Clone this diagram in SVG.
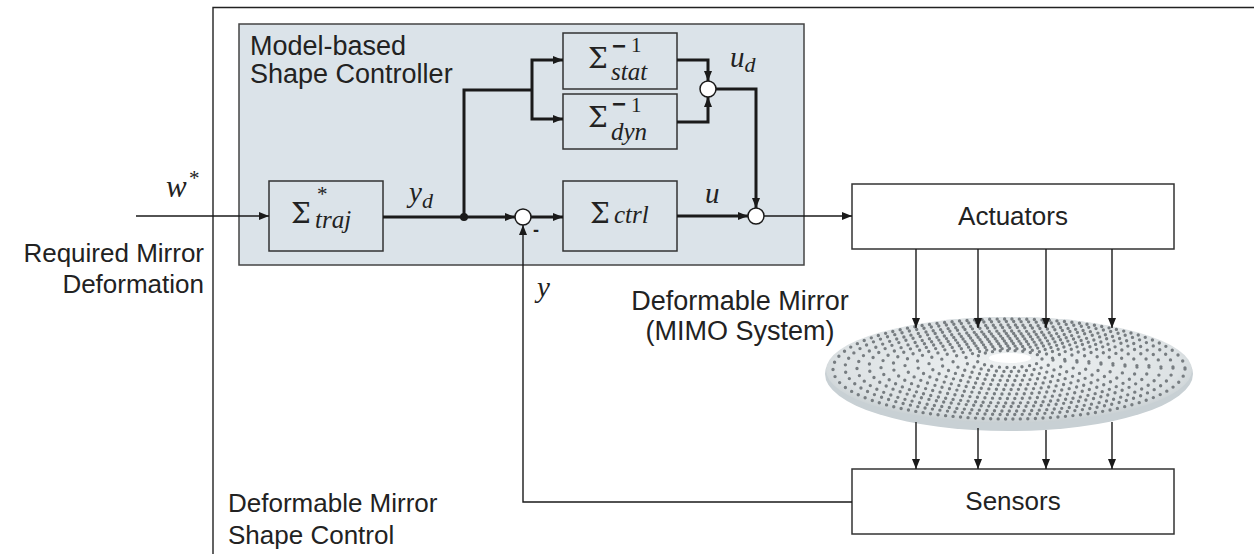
<svg xmlns="http://www.w3.org/2000/svg" width="1254" height="554" viewBox="0 0 1254 554">
<defs>
<style>
.sans{font-family:"Liberation Sans",Arial,sans-serif;fill:#222}
.math{font-family:"Liberation Serif","Times New Roman",serif;fill:#222}
.it{font-style:italic}
.sig{font-family:"DejaVu Serif","Liberation Serif",serif;font-size:28px;fill:#222}
.sub{font-family:"Liberation Serif","Times New Roman",serif;font-size:25px;font-style:italic}
.sup{font-family:"Liberation Serif","Times New Roman",serif;font-size:21px;font-style:normal}
.mn{font-family:"Liberation Sans",Arial,sans-serif;font-size:24px;font-weight:bold;font-style:normal}
.blk{fill:none;stroke:#333;stroke-width:1.5}
.thick{fill:none;stroke:#1a1a1a;stroke-width:3}
.thin{fill:none;stroke:#1a1a1a;stroke-width:1.4}
.sum{fill:#fff;stroke:#1a1a1a;stroke-width:1.5}
</style>
<marker id="ah" viewBox="0 0 10 8" refX="10" refY="4" markerUnits="userSpaceOnUse" markerWidth="11" markerHeight="8" orient="auto">
<path d="M0,0 L10,4 L0,8 Z" fill="#1a1a1a"/>
</marker>
<marker id="as" viewBox="0 0 10 8" refX="10" refY="4" markerUnits="userSpaceOnUse" markerWidth="10" markerHeight="8" orient="auto">
<path d="M0,0 L10,4 L0,8 Z" fill="#1a1a1a"/>
</marker>
<radialGradient id="disk" cx="0.5" cy="0.45" r="0.55">
<stop offset="0" stop-color="#eef1f2"/>
<stop offset="0.85" stop-color="#dde2e4"/>
<stop offset="1" stop-color="#c8cfd2"/>
</radialGradient>
</defs>
<rect width="1254" height="554" fill="#fff"/>

<g id="frame">
<polyline points="213,554 213,7.5 1254,7.5" fill="none" stroke="#222" stroke-width="1.4"/>
<text class="sans" font-size="26" x="228" y="512">Deformable Mirror</text>
<text class="sans" font-size="26" x="228" y="544">Shape Control</text>
</g>

<g id="controller">
<rect x="239" y="24" width="565" height="241" fill="#dbe3e9" stroke="#444" stroke-width="1.5"/>
<text class="sans" font-size="27" x="250" y="55">Model-based</text>
<text class="sans" font-size="27" x="250" y="83">Shape Controller</text>
</g>

<g id="input-label">
<text class="math it" font-size="31" x="166" y="197">w<tspan class="sup" font-size="26" x="189" y="185">*</tspan></text>
<text class="sans" font-size="26" x="204" y="262" text-anchor="end">Required Mirror</text>
<text class="sans" font-size="26" x="204" y="293" text-anchor="end">Deformation</text>
</g>

<g id="traj">
<rect class="blk" x="269" y="181" width="114" height="70"/>
<text class="sig" x="291" y="223">Σ<tspan class="sup" font-size="22" x="317" y="201">*</tspan><tspan class="sub" font-size="24" x="315" y="228">traj</tspan></text>
</g>

<g id="stat">
<rect class="blk" x="563" y="33" width="114" height="56"/>
<text class="sig" x="588" y="68">Σ<tspan class="mn" x="612" y="54">−</tspan><tspan class="sup" x="631" y="52">1</tspan><tspan class="sub" x="611" y="80">stat</tspan></text>
</g>

<g id="dyn">
<rect class="blk" x="563" y="94" width="114" height="55"/>
<text class="sig" x="588" y="127">Σ<tspan class="mn" x="612" y="112">−</tspan><tspan class="sup" x="631" y="112">1</tspan><tspan class="sub" x="611" y="140">dyn</tspan></text>
</g>

<g id="ctrl">
<rect class="blk" x="563" y="181" width="114" height="70"/>
<text class="sig" x="590" y="223">Σ<tspan class="sub" x="614" y="223">ctrl</tspan></text>
</g>

<g id="sum1">
<circle class="sum" cx="523" cy="217" r="8"/>
<text class="sans" font-size="18" font-weight="bold" x="533" y="236">-</text>
</g>
<g id="sum2">
<circle class="sum" cx="756" cy="216" r="8"/>
</g>
<g id="sum3">
<circle class="sum" cx="708" cy="89" r="8"/>
</g>

<g id="actuators">
<rect class="blk" x="852" y="184" width="322" height="65" fill="#fff"/>
<text class="sans" font-size="26" x="1013" y="225" text-anchor="middle">Actuators</text>
</g>

<g id="sensors">
<rect class="blk" x="852" y="469" width="322" height="65" fill="#fff"/>
<text class="sans" font-size="26" x="1013" y="510" text-anchor="middle">Sensors</text>
</g>

<g id="mirror">
<ellipse cx="1009" cy="374" rx="184" ry="57" fill="#c8d0d4"/>
<ellipse cx="1009" cy="370" rx="183" ry="53" fill="url(#disk)"/>
<g fill="none" stroke="#777d81" stroke-width="3.4" stroke-linecap="round" stroke-dasharray="0 7.5">
<ellipse cx="1009" cy="369" rx="176" ry="50"/>
<ellipse cx="1009" cy="368" rx="164" ry="46.5"/>
<ellipse cx="1009" cy="368" rx="152" ry="43"/>
<ellipse cx="1009" cy="367" rx="140" ry="39.5"/>
<ellipse cx="1009" cy="367" rx="128" ry="36"/>
<ellipse cx="1009" cy="366" rx="116" ry="32.5"/>
<ellipse cx="1009" cy="365" rx="104" ry="29"/>
<ellipse cx="1009" cy="364" rx="92" ry="25.5"/>
<ellipse cx="1009" cy="363" rx="80" ry="22"/>
<ellipse cx="1009" cy="362" rx="68" ry="18.5"/>
<ellipse cx="1009" cy="361" rx="56" ry="15"/>
<ellipse cx="1009" cy="360" rx="44" ry="11.5"/>
<ellipse cx="1009" cy="359" rx="33" ry="8.5"/>
</g>
<ellipse cx="1010" cy="358" rx="21" ry="5" fill="#fff"/>
<text class="sans" font-size="27" x="740" y="310" text-anchor="middle">Deformable Mirror</text>
<text class="sans" font-size="27" x="740" y="340" text-anchor="middle">(MIMO System)</text>
</g>

<g id="labels">
<text class="math it" font-size="29" x="409" y="202">y<tspan font-size="22" dy="6">d</tspan></text>
<text class="math it" font-size="29" x="730" y="67">u<tspan font-size="22" dy="5">d</tspan></text>
<text class="math it" font-size="29" x="705" y="203">u</text>
<text class="math it" font-size="29" x="537" y="297">y</text>
</g>

<g id="connectors">
<line class="thin" x1="136" y1="216" x2="269" y2="216" stroke-width="1.7" marker-end="url(#ah)"/>
<line class="thick" x1="383" y1="217" x2="515" y2="217" marker-end="url(#ah)"/>
<polyline class="thick" points="464,217 464,90 532,90"/>
<polyline class="thick" points="532,90 532,60 563,60" marker-end="url(#ah)"/>
<polyline class="thick" points="532,90 532,119 563,119" marker-end="url(#ah)"/>
<line class="thick" x1="531" y1="217" x2="563" y2="217" marker-end="url(#ah)"/>
<polyline class="thick" points="677,60 708,60 708,81" marker-end="url(#ah)"/>
<polyline class="thick" points="677,122 708,122 708,97" marker-end="url(#ah)"/>
<polyline class="thick" points="716,89 756,89 756,208" marker-end="url(#ah)"/>
<line class="thick" x1="677" y1="216" x2="748" y2="216" marker-end="url(#ah)"/>
<line class="thin" x1="764" y1="216" x2="852" y2="216" marker-end="url(#as)"/>
<polyline class="thin" points="852,502 523,502 523,225" marker-end="url(#ah)"/>
<circle cx="464" cy="217" r="4" fill="#1a1a1a"/>
<line class="thin" x1="916" y1="249" x2="916" y2="328" marker-end="url(#as)"/>
<line class="thin" x1="978" y1="249" x2="978" y2="328" marker-end="url(#as)"/>
<line class="thin" x1="1046" y1="249" x2="1046" y2="328" marker-end="url(#as)"/>
<line class="thin" x1="1112" y1="249" x2="1112" y2="328" marker-end="url(#as)"/>
<line class="thin" x1="916" y1="422" x2="916" y2="469" marker-end="url(#as)"/>
<line class="thin" x1="978" y1="428" x2="978" y2="469" marker-end="url(#as)"/>
<line class="thin" x1="1046" y1="430" x2="1046" y2="469" marker-end="url(#as)"/>
<line class="thin" x1="1112" y1="422" x2="1112" y2="469" marker-end="url(#as)"/>
</g>
</svg>
